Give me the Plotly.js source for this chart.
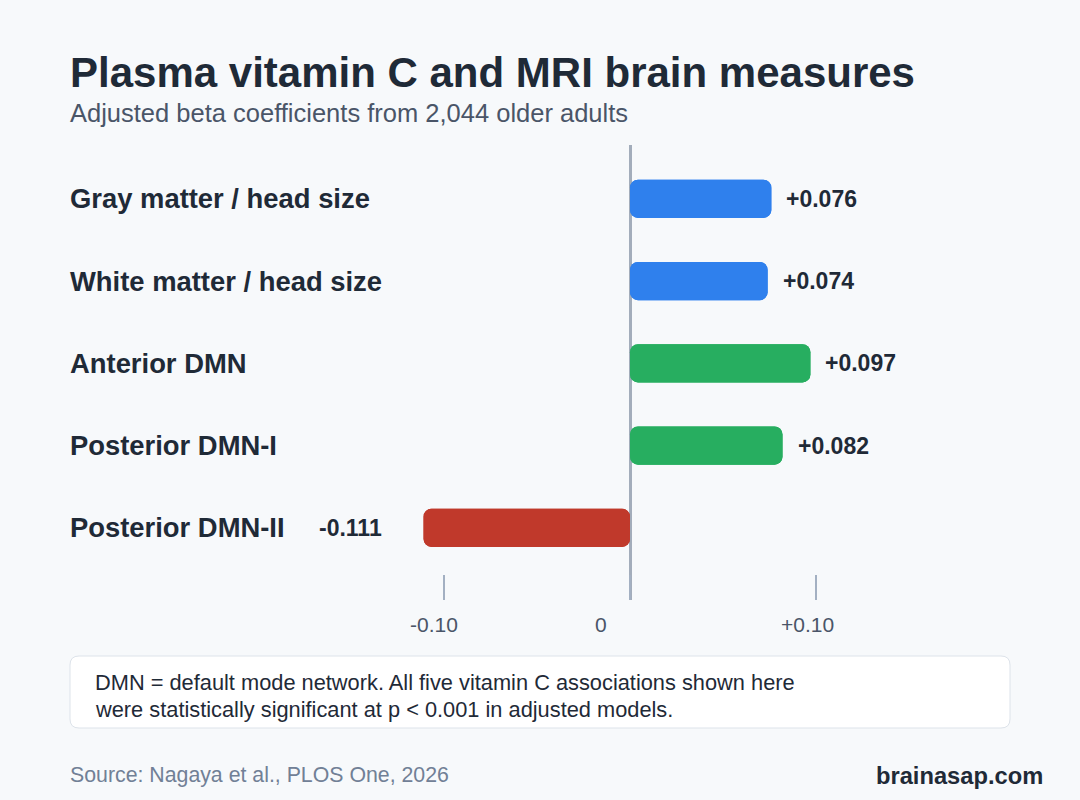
<!DOCTYPE html>
<html>
<head>
<meta charset="utf-8">
<script src="https://cdn.plot.ly/plotly-3.0.1.min.js"></script>
<style>
  html, body { margin: 0; padding: 0; background: #f7f9fb; }
  #chart { width: 1080px; height: 800px; }
</style>
</head>
<body>
<div id="chart"></div>
<script>
// ---- Data ----
const categories = ['Gray matter / head size', 'White matter / head size', 'Anterior DMN', 'Posterior DMN-I', 'Posterior DMN-II'];
const betas = [0.076, 0.074, 0.097, 0.082, -0.111];
const valueLabels = ['+0.076', '+0.074', '+0.097', '+0.082', '-0.111'];
const barColors = ['#2f80ed', '#2f80ed', '#27ae60', '#27ae60', '#c0392b'];
const tickVals = [-0.1, 0, 0.1];
const tickLabels = ['-0.10', '0', '+0.10'];
const titleText = 'Plasma vitamin C and MRI brain measures';
const subtitleText = 'Adjusted beta coefficients from 2,044 older adults';
const noteLines = ['DMN = default mode network. All five vitamin C associations shown here',
                   'were statistically significant at p < 0.001 in adjusted models.'];
const sourceText = 'Source: Nagaya et al., PLOS One, 2026';
const brandText = 'brainasap.com';

// ---- Layout helpers ----
const W = 1080, H = 800;
const FONT = 'Liberation Sans, Arial, Helvetica, sans-serif';
const plotTop = 145, plotBottom = 600;
const px = x => x / W;
const py = y => (plotBottom - y) / (plotBottom - plotTop);

const traceFwd = {
  type: 'bar', orientation: 'h',
  y: categories, x: betas, base: 0,
  width: 0.465,
  marker: { color: barColors, cornerradius: 8, line: { width: 0 } },
  hoverinfo: 'skip', showlegend: false
};
const traceBack = {
  type: 'bar', orientation: 'h',
  y: categories, x: betas.map(v => -v), base: betas,
  width: 0.465,
  marker: { color: barColors, cornerradius: 8, line: { width: 0 } },
  hoverinfo: 'skip', showlegend: false
};

const annotations = [];
annotations.push({ xref: 'paper', yref: 'paper', x: px(68), y: py(73), xanchor: 'left', yanchor: 'middle',
  text: titleText, showarrow: false, font: { family: FONT, size: 42, color: '#1f2a37', weight: 700 } });
annotations.push({ xref: 'paper', yref: 'paper', x: px(68), y: py(113), xanchor: 'left', yanchor: 'middle',
  text: subtitleText, showarrow: false, font: { family: FONT, size: 25.5, color: '#4a5568' } });

categories.forEach((c, i) => {
  annotations.push({ xref: 'paper', yref: 'y', x: px(68), y: c, yshift: 0, xanchor: 'left', yanchor: 'middle',
    text: c, showarrow: false, font: { family: FONT, size: 27.4, color: '#1f2a37', weight: 700 } });
  const v = betas[i];
  annotations.push({ xref: 'x', yref: 'y', x: v, y: c, xanchor: v >= 0 ? 'left' : 'right',
    xshift: v >= 0 ? 13 : -40, yanchor: 'middle',
    text: valueLabels[i], showarrow: false, font: { family: FONT, size: 23, color: '#1f2a37', weight: 700 } });
});

const tickShift = [-10, -29, -9];
tickVals.forEach((t, i) => {
  annotations.push({ xref: 'x', yref: 'paper', x: t, xshift: tickShift[i], y: py(624), xanchor: 'center', yanchor: 'middle',
    text: tickLabels[i], showarrow: false, font: { family: FONT, size: 21, color: '#4a5568' } });
});

noteLines.forEach((t, i) => {
  annotations.push({ xref: 'paper', yref: 'paper', x: px(93), y: py(682 + i * 27), xanchor: 'left', yanchor: 'middle',
    text: t.replace('<', '&lt;'), showarrow: false, font: { family: FONT, size: 21.8, color: '#1f2a37' } });
});

annotations.push({ xref: 'paper', yref: 'paper', x: px(68), y: py(775), xanchor: 'left', yanchor: 'middle',
  text: sourceText, showarrow: false, font: { family: FONT, size: 21.3, color: '#718096' } });
annotations.push({ xref: 'paper', yref: 'paper', x: px(1045), y: py(776), xanchor: 'right', yanchor: 'middle',
  text: brandText, showarrow: false, font: { family: FONT, size: 23.7, color: '#1f2a37', weight: 700 } });

// rounded note box
function roundedRect(x0, y0, x1, y1, r) {
  return 'M' + px(x0 + r) + ',' + py(y0) +
    ' L' + px(x1 - r) + ',' + py(y0) +
    ' Q' + px(x1) + ',' + py(y0) + ' ' + px(x1) + ',' + py(y0 + r) +
    ' L' + px(x1) + ',' + py(y1 - r) +
    ' Q' + px(x1) + ',' + py(y1) + ' ' + px(x1 - r) + ',' + py(y1) +
    ' L' + px(x0 + r) + ',' + py(y1) +
    ' Q' + px(x0) + ',' + py(y1) + ' ' + px(x0) + ',' + py(y1 - r) +
    ' L' + px(x0) + ',' + py(y0 + r) +
    ' Q' + px(x0) + ',' + py(y0) + ' ' + px(x0 + r) + ',' + py(y0) + ' Z';
}

const shapes = [
  { type: 'path', xref: 'paper', yref: 'paper', path: roundedRect(70, 656, 1010, 728, 9),
    fillcolor: '#ffffff', line: { color: '#dde3ea', width: 1 }, layer: 'below' }
];

const rowPx = 82.25, firstRow = 198.8;
const layout = {
  width: W, height: H,
  paper_bgcolor: '#f7f9fb', plot_bgcolor: 'rgba(0,0,0,0)',
  margin: { l: 0, r: 0, t: plotTop, b: H - plotBottom, pad: 0 },
  barmode: 'overlay',
  xaxis: {
    range: [-630 / 1860, 450 / 1860], fixedrange: true,
    showgrid: false, showline: false, showticklabels: false,
    zeroline: true, zerolinecolor: '#a3adbb', zerolinewidth: 3,
    tickmode: 'array', tickvals: tickVals, ticks: 'inside', ticklen: 25, tickwidth: 2, tickcolor: '#a3b0c2'
  },
  yaxis: {
    type: 'category', categoryarray: categories,
    range: [(plotBottom - firstRow) / rowPx, -(firstRow - plotTop) / rowPx],
    showgrid: false, showline: false, showticklabels: false, zeroline: false, ticks: '', fixedrange: true
  },
  annotations: annotations,
  shapes: shapes,
  font: { family: FONT }
};

Plotly.newPlot('chart', [traceFwd, traceBack], layout, { displayModeBar: false, staticPlot: true });
</script>
</body>
</html>
